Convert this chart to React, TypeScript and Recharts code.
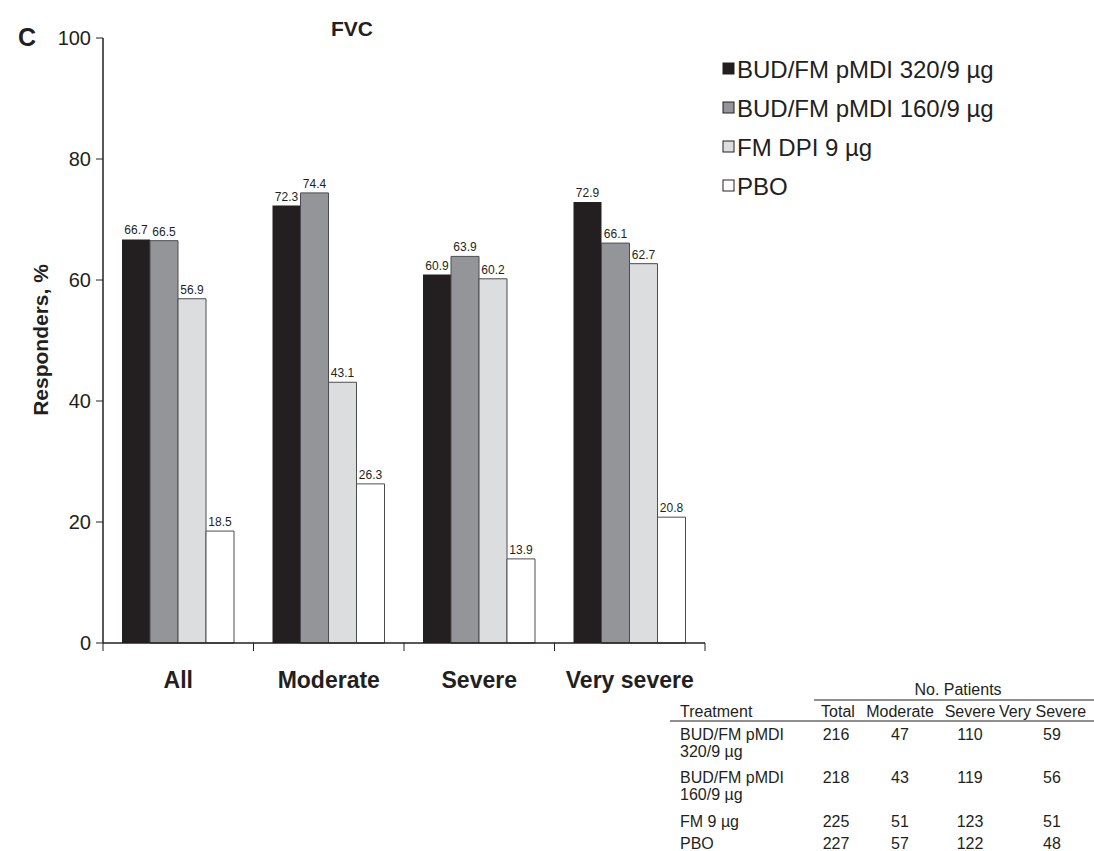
import React from 'react';
import { BarChart, Bar, XAxis, YAxis, LabelList, Customized } from 'recharts';

// Responder rates (%) by COPD severity subgroup
const categories = ['All', 'Moderate', 'Severe', 'Very severe'];
const bud320 = [66.7, 72.3, 60.9, 72.9];
const bud160 = [66.5, 74.4, 63.9, 66.1];
const fmDpi = [56.9, 43.1, 60.2, 62.7];
const pbo = [18.5, 26.3, 13.9, 20.8];
const yTicks = [0, 20, 40, 60, 80, 100];

const seriesNames = ['BUD/FM pMDI 320/9 µg', 'BUD/FM pMDI 160/9 µg', 'FM DPI 9 µg', 'PBO'];
const seriesKeys = ['bud320', 'bud160', 'fmDpi', 'pbo'];
const seriesFills = ['#231f20', '#939598', '#dcdddf', '#ffffff'];

// Patient counts table
const tableColumns = ['Total', 'Moderate', 'Severe', 'Very Severe'];
const tableRows = [
  { name: ['BUD/FM pMDI', '320/9 µg'], counts: [216, 47, 110, 59] },
  { name: ['BUD/FM pMDI', '160/9 µg'], counts: [218, 43, 119, 56] },
  { name: ['FM 9 µg'], counts: [225, 51, 123, 51] },
  { name: ['PBO'], counts: [227, 57, 122, 48] },
];

const data = categories.map((c, i) => ({
  name: c,
  bud320: bud320[i],
  bud160: bud160[i],
  fmDpi: fmDpi[i],
  pbo: pbo[i],
}));

const FONT = '"Liberation Sans", Arial, Helvetica, sans-serif';
const INK = '#231f20';

const CategoryTick = (props: any) => {
  const { x, y, payload, index } = props;
  const half = payload.offset || 0;
  const left = x - half;
  const right = x + half;
  return (
    <g>
      <line x1={left} y1={y - 8} x2={left} y2={y} stroke={INK} strokeWidth={1} />
      {index === categories.length - 1 && (
        <line x1={right} y1={y - 8} x2={right} y2={y} stroke={INK} strokeWidth={1} />
      )}
      <text x={x} y={y + 37} textAnchor="middle" fontFamily={FONT} fontWeight="bold" fontSize={23} fill={INK}>
        {payload.value}
      </text>
    </g>
  );
};

const Annotations = () => (
  <g fontFamily={FONT} fill={INK}>
    <text x={18} y={46} fontSize={25} fontWeight="bold">C</text>
    <text x={352} y={36} fontSize={21} fontWeight="bold" textAnchor="middle">FVC</text>
    <text
      x={0}
      y={0}
      transform="translate(48,340) rotate(-90)"
      textAnchor="middle"
      fontSize={21}
      fontWeight="bold"
    >
      Responders, %
    </text>
    {seriesNames.map((n, i) => (
      <g key={n}>
        <rect
          x={723}
          y={63 + i * 39}
          width={11}
          height={11}
          fill={seriesFills[i]}
          stroke={INK}
          strokeWidth={1}
        />
        <text x={737} y={78 + i * 39} fontSize={24}>{n}</text>
      </g>
    ))}
  </g>
);

const PatientTable = () => {
  const colX = [836, 900, 970, 1052];
  const headX = [838, 900, 970];
  const rowY = [740, 783, 827, 849];
  return (
    <g fontFamily={FONT} fill={INK} fontSize={16}>
      <text x={958} y={695} textAnchor="middle">No. Patients</text>
      <line x1={814} y1={700} x2={1094} y2={700} stroke={INK} strokeWidth={1.2} />
      <text x={680} y={717}>Treatment</text>
      {headX.map((x, i) => (
        <text key={tableColumns[i]} x={x} y={717} textAnchor="middle">{tableColumns[i]}</text>
      ))}
      <text x={999} y={717}>{tableColumns[3]}</text>
      <line x1={670} y1={721} x2={1094} y2={721} stroke={INK} strokeWidth={1.2} />
      {tableRows.map((r, ri) => (
        <g key={ri}>
          {r.name.map((line, li) => (
            <text key={li} x={680} y={rowY[ri] + li * 17}>{line}</text>
          ))}
          {r.counts.map((v, ci) => (
            <text key={ci} x={colX[ci]} y={rowY[ri]} textAnchor="middle">{v}</text>
          ))}
        </g>
      ))}
    </g>
  );
};

export default function App() {
  return (
    <div style={{ position: 'absolute', left: 0, top: 0, width: 1094, height: 851, background: '#fff' }}>
      <BarChart
        width={1094}
        height={851}
        data={data}
        margin={{ top: 38, right: 389, bottom: 168, left: 0 }}
        barCategoryGap={19}
        barGap={0}
      >
        <XAxis
          dataKey="name"
          tickLine={false}
          axisLine={{ stroke: INK, strokeWidth: 1.5 }}
          tick={<CategoryTick />}
          height={40}
          interval={0}
        />
        <YAxis
          domain={[0, 100]}
          ticks={yTicks}
          width={103}
          axisLine={{ stroke: INK, strokeWidth: 1.5 }}
          tickLine={{ stroke: INK }}
          tickSize={7}
          tickMargin={5}
          tick={{ fontFamily: FONT, fontSize: 20, fill: INK }}
        />
        {seriesKeys.map((k, i) => (
          <Bar
            key={k}
            dataKey={k}
            name={seriesNames[i]}
            fill={seriesFills[i]}
            stroke={i === 0 ? 'none' : '#4d4d4f'}
            strokeWidth={1}
            isAnimationActive={false}
          >
            <LabelList
              dataKey={k}
              position="top"
              offset={5}
              fontSize={12}
              fontFamily={FONT}
              fill={INK}
            />
          </Bar>
        ))}
        <Customized component={Annotations} />
        <Customized component={PatientTable} />
      </BarChart>
    </div>
  );
}
